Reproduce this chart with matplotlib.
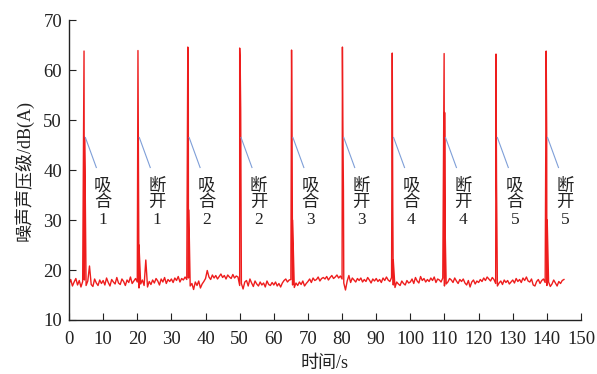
import numpy as np
import matplotlib
matplotlib.use("Agg")
import matplotlib.pyplot as plt

plt.rcParams['font.family'] = ['Liberation Serif', 'Noto Sans CJK SC']

# baseline noise, one reading every 0.5 s from 0 to 145 s
t_start, t_step = 0.0, 0.5
baseline = [
    17.2, 18.1, 16.8, 17.6, 18.3, 17.0, 17.9, 16.6, 17.7, 18.0,
    16.9, 17.8, 20.8, 17.1, 16.7, 18.2, 17.4, 16.9, 18.0, 17.3,
    17.9, 17.0, 18.4, 17.5, 16.8, 18.1, 17.6, 17.2, 18.5, 17.4,
    17.1, 18.2, 17.7, 16.9, 18.0, 17.5, 18.6, 17.3, 17.8, 18.3,
    17.6, 16.4, 17.2, 18.0, 16.9, 22.0, 16.6, 17.7, 17.1, 18.0,
    17.4, 18.3, 17.8, 17.0, 18.2, 17.6, 18.5, 17.3, 18.1, 17.7,
    18.2, 17.5, 18.4, 17.9, 18.7, 17.6, 18.3, 18.0, 18.6, 18.1,
    18.4, 16.8, 17.3, 16.1, 17.6, 16.9, 17.8, 16.4, 17.2, 17.7,
    18.3, 19.9, 18.6, 18.1, 19.0, 18.4, 18.9, 18.2, 18.7, 19.2,
    18.5, 18.9, 18.2, 19.0, 18.6, 18.3, 19.1, 18.4, 18.8, 18.6,
    16.9, 17.3, 16.2, 17.6, 17.9, 16.8, 18.2, 17.4, 16.7, 17.8,
    17.2, 16.8, 17.6, 17.0, 17.4, 16.6, 17.8, 17.1, 16.9, 17.5,
    17.0, 17.6, 16.8, 17.3, 16.6, 17.4, 17.9, 18.2, 17.6, 18.0,
    18.1, 17.0, 16.5, 17.4, 16.9, 17.6, 17.1, 17.8, 16.8, 17.3,
    17.7, 18.2, 17.5, 18.4, 17.9, 18.1, 18.6, 17.8, 18.3, 18.5,
    18.2, 18.7, 18.0, 18.5, 18.9, 18.3, 18.6, 19.0, 18.4, 18.8,
    18.2, 17.4, 16.0, 17.8, 18.9, 17.5, 18.4, 18.0, 17.6, 18.3,
    17.9, 18.4, 17.6, 18.1, 17.7, 18.5, 18.0, 17.4, 18.2, 17.8,
    18.3, 17.7, 18.1, 17.5, 18.4, 17.9, 18.6, 18.0, 17.7, 18.5,
    17.0, 16.5, 17.6, 17.2, 16.9, 17.8, 17.3, 17.0, 17.9, 17.4,
    17.6, 18.2, 17.3, 18.5, 17.8, 17.4, 18.7, 17.9, 18.3, 17.6,
    18.1, 17.7, 18.4, 17.9, 18.6, 17.5, 18.2, 18.0, 17.6, 18.4,
    16.8, 17.2, 17.6, 18.3, 18.0, 17.5, 18.4, 17.8, 17.3, 18.1,
    17.7, 18.2, 17.4, 17.0, 17.9, 16.6, 17.6, 18.0, 17.2, 17.8,
    17.5, 18.1, 17.7, 18.4, 17.9, 18.6, 18.2, 17.8, 18.5, 18.1,
    17.3, 16.8, 17.4, 17.8, 17.1, 18.0, 17.5, 17.9, 17.2, 17.6,
    18.0, 17.4, 18.3, 17.7, 18.1, 17.5, 18.4, 17.9, 18.6, 17.8,
    17.6, 18.2, 17.0, 16.8, 17.7, 18.1, 17.3, 17.9, 18.2, 17.5,
    16.9, 17.6, 16.7, 17.2, 18.0, 17.4, 16.8, 17.7, 17.3, 17.9,
    18.1,
]

# switching events: time (s), peak level and the two readings right after
spike_t = [4.4, 20.2, 34.8, 50.0, 65.2, 80.1, 94.7, 109.9, 125.1, 139.8]
spike_peak = [63.8, 63.9, 64.6, 64.4, 64.0, 64.6, 63.4, 63.3, 63.2, 63.8]
spike_tail1 = [46.5, 41.8, 59.0, 61.5, 47.5, 47.5, 33.0, 51.5, 38.0, 47.5]
spike_tail2 = [40.0, 25.0, 32.0, 52.0, 30.0, 36.0, 22.0, 28.0, 24.0, 30.0]

labels = ["吸\n合\n1", "断\n开\n1", "吸\n合\n2", "断\n开\n2", "吸\n合\n3",
          "断\n开\n3", "吸\n合\n4", "断\n开\n4", "吸\n合\n5", "断\n开\n5"]

# build the full trace
t_base = t_start + t_step * np.arange(len(baseline))
t_all = list(t_base) + spike_t + [t + 0.15 for t in spike_t] + [t + 0.3 for t in spike_t]
y_all = list(baseline) + spike_peak + spike_tail1 + spike_tail2
order = np.argsort(t_all, kind="stable")
t_all = np.array(t_all)[order]
y_all = np.array(y_all)[order]

fig = plt.figure(figsize=(5.97, 3.74), dpi=100)
ax = fig.add_axes([0.1156, 0.1444, 0.8576, 0.802])

ax.plot(t_all, y_all, color="#ee1d1d", lw=1.0)

for t, lab in zip(spike_t, labels):
    ax.plot([t + 0.4, t + 3.6], [46.5, 40.5], color="#7f9fd8", lw=0.8)
    ax.text(t + 5.5, 33.4, lab, ha="center", va="center", fontsize=12.5,
            linespacing=1.05, color="#222222")

ax.set_xlim(0, 150)
ax.set_ylim(10, 70)
ax.set_xticks(np.arange(0, 151, 10))
ax.set_yticks(np.arange(10, 71, 10))
ax.tick_params(direction="in", length=5, labelsize=13.5, colors="#222222")
ax.tick_params(axis="x", pad=8)
ax.tick_params(axis="y", pad=5)
for s in ["top", "right"]:
    ax.spines[s].set_visible(False)
for s in ["left", "bottom"]:
    ax.spines[s].set_linewidth(1.0)
    ax.spines[s].set_color("#222222")

ax.set_xlabel("时间/s", fontsize=13, color="#222222", labelpad=5)
ax.set_ylabel("噪声声压级/dB(A)", fontsize=13, color="#222222", labelpad=7)

fig.savefig("out.png", dpi=100)
